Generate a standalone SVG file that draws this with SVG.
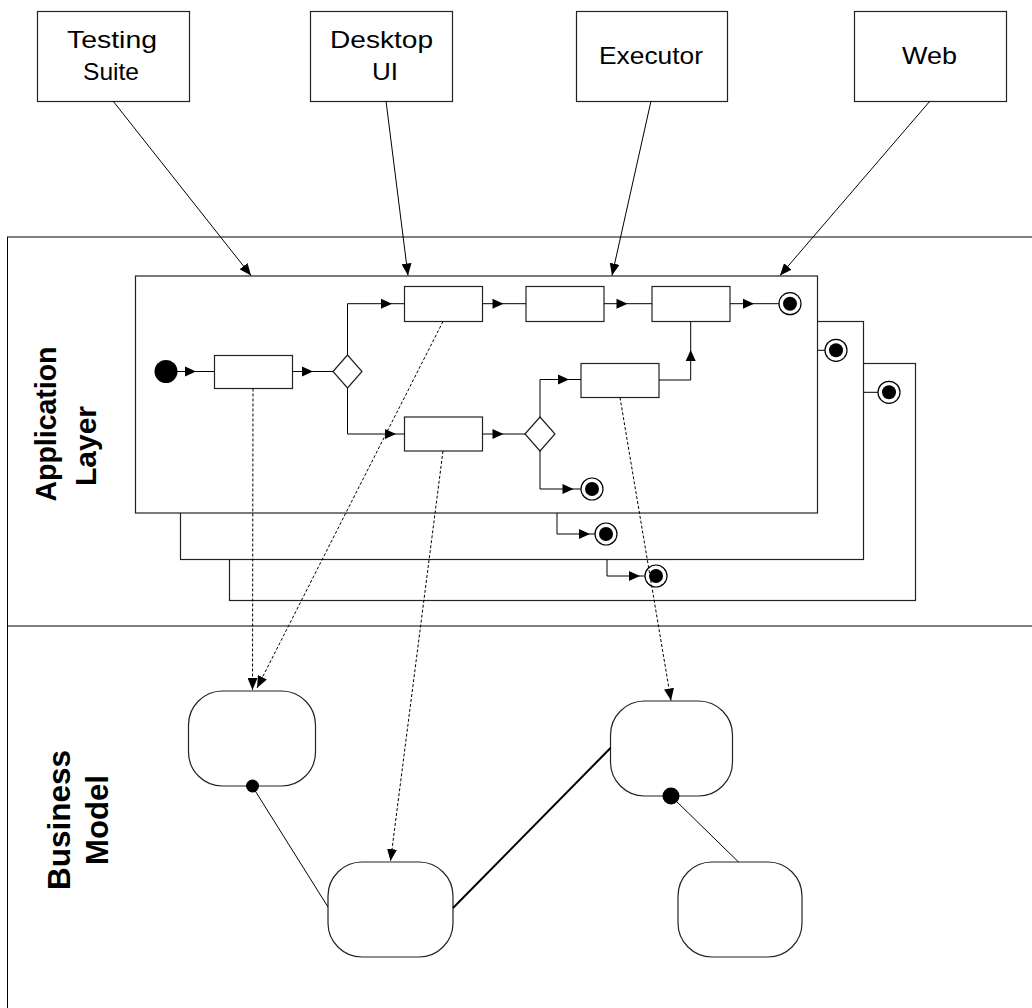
<svg xmlns="http://www.w3.org/2000/svg" xmlns:xlink="http://www.w3.org/1999/xlink" width="1032" height="1008" viewBox="0 0 1032 1008">
<style>
.ln{fill:none;stroke:#000;stroke-width:1}
.box{fill:#fff;stroke:#222;stroke-width:1.2}
.act{fill:#fff;stroke:#222;stroke-width:1.2}
.dash{fill:none;stroke:#000;stroke-width:1;stroke-dasharray:3,2}
.lbl{font-family:"Liberation Sans",Arial,sans-serif;font-size:24px;fill:#000;text-anchor:middle}
.lane{font-family:"Liberation Sans",Arial,sans-serif;font-weight:bold;fill:#000;text-anchor:middle}
.dot{fill:#000}
</style>
<defs>
<marker id="arr" viewBox="0 0 12 10" refX="12" refY="5" markerWidth="12" markerHeight="10" markerUnits="userSpaceOnUse" orient="auto">
<path d="M0,0 L12,5 L0,10 Z" fill="#000"/>
</marker>
<path id="tri" d="M0,0 L-11,-5 L-11,5 Z" fill="#000"/>
<g id="endst"><circle r="11" fill="#fff" stroke="#000" stroke-width="1.2"/><circle r="7" fill="#000"/></g>
</defs>

<g id="swimlanes">
<line class="ln" x1="7.5" y1="237" x2="7.5" y2="1008"/>
<line class="ln" x1="7" y1="237" x2="1032" y2="237"/>
<line class="ln" x1="7" y1="626" x2="1032" y2="626"/>
<text class="lane" font-size="29" textLength="155" lengthAdjust="spacingAndGlyphs" transform="translate(56,424) rotate(-90)">Application</text>
<text class="lane" font-size="29" textLength="80" lengthAdjust="spacingAndGlyphs" transform="translate(96,446) rotate(-90)">Layer</text>
<text class="lane" font-size="31" textLength="140" lengthAdjust="spacingAndGlyphs" transform="translate(70,820) rotate(-90)">Business</text>
<text class="lane" font-size="31" textLength="90" lengthAdjust="spacingAndGlyphs" transform="translate(108,820) rotate(-90)">Model</text>
</g>

<g id="node-testing-suite">
<rect class="box" x="37.5" y="11.5" width="152" height="90"/>
<text class="lbl" x="112" y="48" textLength="90" lengthAdjust="spacingAndGlyphs">Testing</text>
<text class="lbl" x="111" y="80" textLength="56" lengthAdjust="spacingAndGlyphs">Suite</text>
</g>
<g id="node-desktop-ui">
<rect class="box" x="310.5" y="11.5" width="142" height="90"/>
<text class="lbl" x="381.5" y="48" textLength="103" lengthAdjust="spacingAndGlyphs">Desktop</text>
<text class="lbl" x="385" y="80" textLength="26" lengthAdjust="spacingAndGlyphs">UI</text>
</g>
<g id="node-executor">
<rect class="box" x="576.5" y="11.5" width="151" height="90"/>
<text class="lbl" x="651" y="64" textLength="104" lengthAdjust="spacingAndGlyphs">Executor</text>
</g>
<g id="node-web">
<rect class="box" x="854.5" y="11.5" width="152" height="90"/>
<text class="lbl" x="929.5" y="64" textLength="55" lengthAdjust="spacingAndGlyphs">Web</text>
</g>

<g id="node-app-frame-3">
<rect class="box" x="229.5" y="363.5" width="686" height="237"/>
</g>
<g id="node-app-frame-2">
<rect class="box" x="180.5" y="321.5" width="683" height="238"/>
</g>
<g id="node-app-frame-1">
<rect class="box" x="135.5" y="276" width="682" height="237"/>
</g>

<g id="node-start"><circle cx="166" cy="371.5" r="11.5" fill="#000"/></g>
<g id="node-act1"><rect class="act" x="214.5" y="355.5" width="78" height="33"/></g>
<g id="node-dec1"><path class="act" d="M333,371.5 L347.5,355 L362,371.5 L347.5,388 Z"/></g>
<g id="node-act2"><rect class="act" x="404.5" y="286.5" width="78" height="35"/></g>
<g id="node-act3"><rect class="act" x="526" y="286.5" width="78" height="35"/></g>
<g id="node-act4"><rect class="act" x="652" y="286.5" width="78" height="35"/></g>
<g id="node-act5"><rect class="act" x="404.5" y="417" width="78" height="34"/></g>
<g id="node-dec2"><path class="act" d="M525,434 L540,417 L555,434 L540,451 Z"/></g>
<g id="node-act6"><rect class="act" x="581" y="363.5" width="78" height="34"/></g>
<g id="node-end1"><use xlink:href="#endst" x="790" y="303.7"/></g>
<g id="node-end2"><use xlink:href="#endst" x="592" y="489"/></g>
<g id="node-end3"><use xlink:href="#endst" x="836" y="350.3"/></g>
<g id="node-end4"><use xlink:href="#endst" x="889" y="392.3"/></g>
<g id="node-end5"><use xlink:href="#endst" x="606" y="534"/></g>
<g id="node-end6"><use xlink:href="#endst" x="656" y="576"/></g>

<g id="node-bm1"><rect class="box" x="188.5" y="691" width="127" height="95" rx="34" ry="34"/></g>
<g id="node-bm2"><rect class="box" x="328" y="862" width="125" height="95" rx="34" ry="34"/></g>
<g id="node-bm3"><rect class="box" x="610.5" y="701" width="122" height="95" rx="34" ry="34"/></g>
<g id="node-bm4"><rect class="box" x="678" y="862" width="124" height="95" rx="34" ry="34"/></g>

<g id="connectors">
<line class="ln" x1="113" y1="101" x2="251" y2="275.5" marker-end="url(#arr)"/>
<line class="ln" x1="386" y1="101" x2="408" y2="275.5" marker-end="url(#arr)"/>
<line class="ln" x1="651" y1="101" x2="612" y2="275.5" marker-end="url(#arr)"/>
<line class="ln" x1="930" y1="101" x2="780" y2="275.5" marker-end="url(#arr)"/>

<path class="ln" d="M177,371.5 H214.5"/><use xlink:href="#tri" x="196" y="371.5"/>
<path class="ln" d="M292.5,371.5 H333"/><use xlink:href="#tri" x="313" y="371.5"/>
<path class="ln" d="M347.5,355 V303.7 H404.5"/><use xlink:href="#tri" x="392" y="303.7"/>
<path class="ln" d="M347.5,388 V434 H404.5"/><use xlink:href="#tri" x="396" y="434"/>
<path class="ln" d="M482.5,303.7 H526"/><use xlink:href="#tri" x="503.5" y="303.7"/>
<path class="ln" d="M604,303.7 H652"/><use xlink:href="#tri" x="627.5" y="303.7"/>
<path class="ln" d="M730,303.7 H779"/><use xlink:href="#tri" x="754" y="303.7"/>
<path class="ln" d="M482.5,434 H525"/><use xlink:href="#tri" x="503.5" y="434"/>
<path class="ln" d="M540,417 V379.5 H581"/><use xlink:href="#tri" x="569" y="379.5"/>
<path class="ln" d="M659,380 H690.7 V321.5"/><use xlink:href="#tri" transform="translate(690.7,350) rotate(-90)"/>
<path class="ln" d="M540,451 V489 H581"/><use xlink:href="#tri" x="573.5" y="489"/>
<path class="ln" d="M817.5,350.3 H825"/>
<path class="ln" d="M863.5,392.3 H878"/>
<path class="ln" d="M557,513 V534 H595"/><use xlink:href="#tri" x="590" y="534"/>
<path class="ln" d="M607,559.5 V576 H645"/><use xlink:href="#tri" x="640" y="576"/>

<line class="dash" x1="253" y1="388.5" x2="252.5" y2="690" marker-end="url(#arr)"/>
<line class="dash" x1="443" y1="321.5" x2="257" y2="688" marker-end="url(#arr)"/>
<line class="dash" x1="443" y1="451" x2="390.5" y2="861" marker-end="url(#arr)"/>
<line class="dash" x1="620" y1="397.5" x2="671" y2="700.5" marker-end="url(#arr)"/>

<line class="ln" x1="254" y1="789" x2="328" y2="907"/>
<line x1="453" y1="908" x2="610.5" y2="748" stroke="#000" stroke-width="2"/>
<line class="ln" x1="673" y1="798" x2="738.5" y2="862"/>
<circle class="dot" cx="252.5" cy="786" r="6.5"/>
<circle class="dot" cx="671" cy="796" r="8.5"/>
</g>
</svg>
